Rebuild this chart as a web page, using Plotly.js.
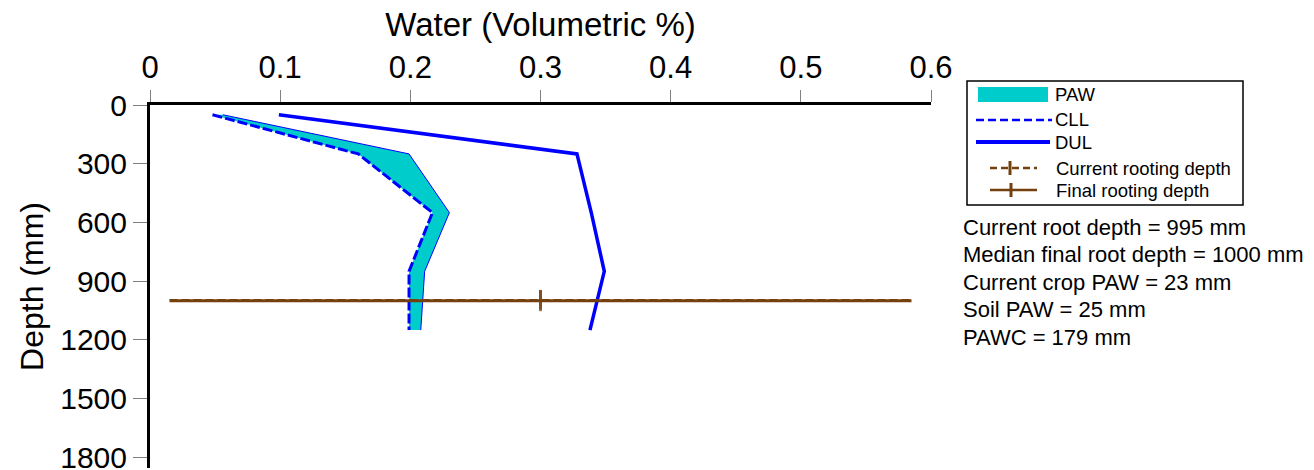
<!DOCTYPE html>
<html>
<head>
<meta charset="utf-8">
<script src="https://cdn.plot.ly/plotly-3.0.1.min.js"></script>
<style>
  html, body { margin: 0; padding: 0; background: #ffffff; }
  #chart { width: 1314px; height: 470px; }
</style>
</head>
<body>
<div id="chart"></div>
<script>
// ---- data ----
const layerDepths = [50, 250, 550, 850, 1150];          // mm
const cllValues   = [0.048, 0.160, 0.217, 0.199, 0.199]; // crop lower limit
const swValues    = [0.056, 0.199, 0.230, 0.211, 0.208]; // current soil water (PAW upper edge)
const dulValues   = [0.099, 0.328, 0.339, 0.349, 0.338]; // drained upper limit
const rootLineX   = [0.015, 0.3, 0.585];                  // extent of rooting depth lines
const currentRootDepth = 995;   // mm
const finalRootDepth   = 1000;  // mm
const xTickVals = [0, 0.1, 0.2, 0.3, 0.4, 0.5, 0.6];
const xTickText = ['0', '0.1', '0.2', '0.3', '0.4', '0.5', '0.6'];
const yTickVals = [0, 300, 600, 900, 1200, 1500, 1800];
const yTickText = ['0', '300', '600', '900', '1200', '1500', '1800'];
const legendLabels = ['PAW', 'CLL', 'DUL', 'Current rooting depth', 'Final rooting depth'];
const infoLines = [
  'Current root depth = 995 mm',
  'Median final root depth = 1000 mm',
  'Current crop PAW = 23 mm',
  'Soil PAW = 25 mm',
  'PAWC = 179 mm'
];

// ---- styles ----
const BLUE = '#0000ff';
const CYAN = '#00cccc';
const BROWN = '#74400f';
const FONT = 'Liberation Sans, Arial, sans-serif';

// ---- plot geometry (pixels) ----
const FIG_W = 1314, FIG_H = 470;
const M = { l: 150, r: 383, t: 105, b: 2 };
const PW = FIG_W - M.l - M.r;
const PH = FIG_H - M.t - M.b;
const px = v => (v - M.l) / PW;          // pixel x -> paper x
const py = v => (M.t + PH - v) / PH;     // pixel y -> paper y

const traces = [
  // base for fill (CLL, invisible)
  { x: cllValues, y: layerDepths, mode: 'lines', line: { width: 0, color: BLUE },
    hoverinfo: 'skip', showlegend: false },
  // PAW fill up to current soil water
  { x: swValues, y: layerDepths, mode: 'lines', fill: 'tonextx', fillcolor: CYAN,
    line: { width: 1, color: BLUE }, name: 'PAW', showlegend: false },
  // CLL
  { x: cllValues, y: layerDepths, mode: 'lines',
    line: { width: 3, color: BLUE, dash: '10px,3px' }, name: 'CLL', showlegend: false },
  // DUL
  { x: dulValues, y: layerDepths, mode: 'lines',
    line: { width: 3.5, color: BLUE }, name: 'DUL', showlegend: false },
  // current rooting depth (hidden under the final line, as in the reference)
  { x: rootLineX, y: rootLineX.map(() => currentRootDepth), mode: 'lines+markers',
    line: { width: 1.2, color: BROWN, dash: '8px,4px' },
    marker: { symbol: 'line-ns', size: [0, 14, 0], line: { width: 3, color: BROWN } },
    name: 'Current rooting depth', showlegend: false },
  // final rooting depth
  { x: rootLineX, y: rootLineX.map(() => finalRootDepth), mode: 'lines+markers',
    line: { width: 3, color: BROWN },
    marker: { symbol: 'line-ns', size: [0, 15, 0], line: { width: 3, color: BROWN } },
    name: 'Final rooting depth', showlegend: false }
];

// ---- manual legend ----
const shapes = [
  { type: 'rect', xref: 'paper', yref: 'paper', x0: px(967), x1: px(1243), y0: py(81), y1: py(205),
    line: { color: '#000', width: 1.5 }, fillcolor: 'rgba(0,0,0,0)' },
  { type: 'rect', xref: 'paper', yref: 'paper', x0: px(978), x1: px(1048), y0: py(87), y1: py(102),
    line: { width: 0 }, fillcolor: CYAN },
  { type: 'line', xref: 'paper', yref: 'paper', x0: px(976), x1: px(1052), y0: py(120), y1: py(120),
    line: { color: BLUE, width: 2.5, dash: '8px,4px' } },
  { type: 'line', xref: 'paper', yref: 'paper', x0: px(976), x1: px(1050), y0: py(142), y1: py(142),
    line: { color: BLUE, width: 4 } },
  { type: 'line', xref: 'paper', yref: 'paper', x0: px(990), x1: px(1037), y0: py(168), y1: py(168),
    line: { color: BROWN, width: 2.5, dash: '7px,4px' } },
  { type: 'line', xref: 'paper', yref: 'paper', x0: px(1010), x1: px(1010), y0: py(161), y1: py(175),
    line: { color: BROWN, width: 3 } },
  { type: 'line', xref: 'paper', yref: 'paper', x0: px(990), x1: px(1037), y0: py(190), y1: py(190),
    line: { color: BROWN, width: 2.5 } },
  { type: 'line', xref: 'paper', yref: 'paper', x0: px(1011), x1: px(1011), y0: py(183), y1: py(197),
    line: { color: BROWN, width: 3 } }
];

const legendRowsY = [95, 120, 143, 168, 190];
const legendRowsX = [1053, 1053, 1053, 1054, 1054];
const annotations = legendLabels.map((t, i) => ({
  xref: 'paper', yref: 'paper', x: px(legendRowsX[i]), y: py(legendRowsY[i]),
  xanchor: 'left', yanchor: 'middle', text: t, showarrow: false,
  font: { family: FONT, size: 18.5, color: '#000' }
}));
const infoRowsY = [227, 254, 282, 309, 337];
infoLines.forEach((t, i) => annotations.push({
  xref: 'paper', yref: 'paper', x: px(961), y: py(infoRowsY[i]),
  xanchor: 'left', yanchor: 'middle', text: t, showarrow: false,
  font: { family: FONT, size: 22, color: '#000' }
}));

const layout = {
  width: FIG_W, height: FIG_H,
  margin: M,
  paper_bgcolor: '#ffffff', plot_bgcolor: '#ffffff',
  showlegend: false,
  font: { family: FONT, color: '#000' },
  xaxis: {
    side: 'top', range: [0, 0.6], autorange: false,
    tickvals: xTickVals, ticktext: xTickText,
    ticks: 'outside', ticklen: 12, tickwidth: 1, tickcolor: '#808080',
    tickfont: { family: FONT, size: 31, color: '#000' },
    ticklabeloverflow: 'allow',
    showline: true, linewidth: 3, linecolor: '#000',
    showgrid: false, zeroline: false, automargin: false,
    title: { text: 'Water (Volumetric %)', font: { family: FONT, size: 33, color: '#000' }, standoff: 4 }
  },
  yaxis: {
    range: [1855, 0], autorange: false,
    tickvals: yTickVals, ticktext: yTickText,
    ticks: 'outside', ticklen: 14, tickwidth: 1, tickcolor: '#808080',
    tickfont: { family: FONT, size: 30, color: '#000' },
    ticklabeloverflow: 'allow',
    showline: true, linewidth: 3, linecolor: '#000',
    showgrid: false, zeroline: false, automargin: false,
    title: { text: 'Depth (mm)', font: { family: FONT, size: 32, color: '#000' }, standoff: 8 }
  },
  shapes: shapes,
  annotations: annotations
};

Plotly.newPlot('chart', traces, layout, { displayModeBar: false, staticPlot: true });
</script>
</body>
</html>
